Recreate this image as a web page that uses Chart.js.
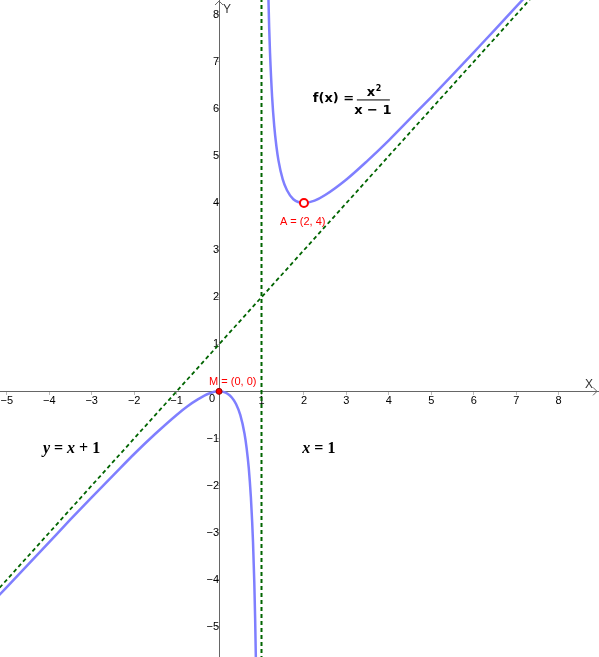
<!DOCTYPE html>
<html lang="en">
<head>
  <meta charset="UTF-8">
  <title>f(x) = x² / (x − 1)</title>
  <style>
    body { margin: 0; background: #fff; }
    .chart-container { width: 599px; height: 657px; }
  </style>
</head>
<body>
  <div class="chart-container"><canvas id="myChart"></canvas></div>

  <script src="https://cdn.jsdelivr.net/npm/chart.js"></script>
  <script>
    // curve f(x) = x^2 / (x - 1)
    const leftX = [-5.3, -4.5, -4, -3.5, -3, -2.5, -2, -1.5, -1, -0.75, -0.5, -0.25, 0, 0.1, 0.2, 0.3, 0.4, 0.5, 0.6, 0.65, 0.7, 0.75, 0.78, 0.8, 0.83, 0.85, 0.87, 0.88];
    const leftY = [-4.44, -3.68, -3.2, -2.72, -2.25, -1.79, -1.33, -0.9, -0.5, -0.32, -0.17, -0.05, 0, -0.011, -0.05, -0.129, -0.267, -0.5, -0.9, -1.21, -1.63, -2.25, -2.77, -3.2, -4.05, -4.82, -5.82, -6.45];
    const rightX = [1.12, 1.15, 1.18, 1.2, 1.25, 1.3, 1.35, 1.4, 1.5, 1.6, 1.75, 2, 2.25, 2.5, 3, 3.5, 4, 4.5, 5, 5.5, 6, 6.5, 7, 7.5];
    const rightY = [10.45, 8.82, 7.74, 7.2, 6.25, 5.63, 5.21, 4.9, 4.5, 4.27, 4.08, 4, 4.05, 4.17, 4.5, 4.9, 5.33, 5.79, 6.25, 6.72, 7.2, 7.68, 8.17, 8.65];

    // asymptotes y = x + 1 and x = 1
    const obliqueX = [-5.5, 7.5];
    const obliqueY = [-4.5, 8.5];
    const verticalX = [1, 1];
    const verticalY = [-6, 9];

    // marked points
    const pointA = [2, 4];
    const pointM = [0, 0];

    // axis ticks (0 is written once at the origin)
    const xTickValues = [-5, -4, -3, -2, -1, 1, 2, 3, 4, 5, 6, 7, 8];
    const yTickValues = [-5, -4, -3, -2, -1, 1, 2, 3, 4, 5, 6, 7, 8];

    const toPoints = (xs, ys) => xs.map((v, i) => ({ x: v, y: ys[i] }));
    const fmt = v => (v < 0 ? '\u2212' + (-v) : String(v));

    // text helper: pieces of [text, font]
    function drawPieces(ctx, pieces, x, y) {
      let cx = x;
      pieces.forEach(([t, f]) => {
        ctx.font = f;
        ctx.fillText(t, cx, y);
        cx += ctx.measureText(t).width;
      });
    }

    const overlay = {
      id: 'overlay',
      afterDraw(chart) {
        const { ctx, scales: { x, y } } = chart;
        const px = v => x.getPixelForValue(v);
        const py = v => y.getPixelForValue(v);
        const ox = px(0), oy = py(0);
        ctx.save();

        // axis arrows
        ctx.strokeStyle = '#666';
        ctx.lineWidth = 1;
        ctx.beginPath();
        ctx.moveTo(x.right - 6, oy - 4); ctx.lineTo(x.right - 2, oy); ctx.lineTo(x.right - 6, oy + 4);
        ctx.moveTo(ox - 4, y.top + 5); ctx.lineTo(ox, y.top + 1); ctx.lineTo(ox + 4, y.top + 5);
        ctx.stroke();

        // axis names and origin
        ctx.fillStyle = '#333';
        ctx.font = '12px "Liberation Sans", Arial, sans-serif';
        ctx.textBaseline = 'middle';
        ctx.textAlign = 'center';
        ctx.fillText('X', x.right - 10, oy - 7);
        ctx.fillText('Y', ox + 8, y.top + 10);
        ctx.fillStyle = '#000';
        ctx.font = '11px "Liberation Sans", Arial, sans-serif';
        ctx.fillText('0', ox - 7, oy + 8);

        // point captions
        ctx.textAlign = 'left';
        ctx.fillStyle = '#ff0000';
        ctx.fillText('M = (0, 0)', px(pointM[0]) - 10, py(pointM[1]) - 9);
        ctx.fillText('A = (2, 4)', px(pointA[0]) - 24, py(pointA[1]) + 19);

        // function caption
        ctx.fillStyle = '#000';
        const bold = 'bold 13px "DejaVu Sans", sans-serif';
        const fx = px(2.21), fy = py(6.22);
        ctx.font = bold;
        ctx.fillText('f(x) =', fx, fy);
        ctx.fillText('x', fx + 54, fy - 6);
        ctx.font = 'bold 8px "DejaVu Sans", sans-serif';
        ctx.fillText('2', fx + 63, fy - 10);
        ctx.font = bold;
        ctx.textAlign = 'center';
        ctx.fillText('x \u2212 1', fx + 60, fy + 12);
        ctx.fillRect(fx + 44, fy + 1, 33, 1);

        // asymptote captions
        ctx.textAlign = 'left';
        const it = 'bold italic 16px "Liberation Serif", serif';
        const up = 'bold 16px "Liberation Serif", serif';
        drawPieces(ctx, [['y', it], [' = ', up], ['x', it], [' + 1', up]], px(-4.15), py(-1.21));
        drawPieces(ctx, [['x', it], [' = 1', up]], px(1.96), py(-1.21));

        ctx.restore();
      }
    };

    const axisFit = scale => {
      scale.paddingLeft = 0;
      scale.paddingRight = 0;
      scale.paddingTop = 0;
      scale.paddingBottom = 0;
    };

    const ctx = document.getElementById('myChart').getContext('2d');

    new Chart(ctx, {
      type: 'scatter',
      data: {
        datasets: [
          {
            label: 'A',
            data: [{ x: pointA[0], y: pointA[1] }],
            pointRadius: 4,
            pointBorderWidth: 2,
            pointBorderColor: '#ff0000',
            pointBackgroundColor: '#ffffff',
            order: 0
          },
          {
            label: 'M',
            data: [{ x: pointM[0], y: pointM[1] }],
            pointRadius: 3,
            pointBorderWidth: 1,
            pointBorderColor: '#990000',
            pointBackgroundColor: '#ff0000',
            order: 0
          },
          {
            label: 'f left',
            data: toPoints(leftX, leftY),
            showLine: true,
            borderColor: '#7f7fff',
            borderWidth: 2.5,
            pointRadius: 0,
            cubicInterpolationMode: 'monotone',
            order: 1
          },
          {
            label: 'f right',
            data: toPoints(rightX, rightY),
            showLine: true,
            borderColor: '#7f7fff',
            borderWidth: 2.5,
            pointRadius: 0,
            cubicInterpolationMode: 'monotone',
            order: 1
          },
          {
            label: 'y = x + 1',
            data: toPoints(obliqueX, obliqueY),
            showLine: true,
            borderColor: '#006400',
            borderWidth: 1.8,
            borderDash: [4, 3],
            pointRadius: 0,
            order: 2
          },
          {
            label: 'x = 1',
            data: toPoints(verticalX, verticalY),
            showLine: true,
            borderColor: '#006400',
            borderWidth: 2,
            borderDash: [4, 3],
            pointRadius: 0,
            order: 2
          }
        ]
      },
      options: {
        responsive: true,
        maintainAspectRatio: false,
        animation: false,
        events: [],
        layout: { padding: 0, autoPadding: false },
        plugins: {
          legend: { display: false },
          tooltip: { enabled: false }
        },
        scales: {
          x: {
            type: 'linear',
            min: -5.16,
            max: 8.95,
            position: { y: 0 },
            afterBuildTicks: scale => { scale.ticks = xTickValues.map(v => ({ value: v })); },
            afterFit: axisFit,
            border: { color: '#666', width: 1 },
            grid: { drawOnChartArea: false, drawTicks: true, tickLength: 3, color: '#bbb' },
            ticks: {
              color: '#000',
              font: { size: 11, family: '"Liberation Sans", Arial, sans-serif' },
              padding: 0,
              maxRotation: 0,
              autoSkip: false,
              callback: v => fmt(v)
            }
          },
          y: {
            type: 'linear',
            min: -5.64,
            max: 8.31,
            position: { x: 0 },
            afterBuildTicks: scale => { scale.ticks = yTickValues.map(v => ({ value: v })); },
            afterFit: axisFit,
            border: { color: '#666', width: 1 },
            grid: { drawOnChartArea: false, drawTicks: true, tickLength: 3, color: '#bbb' },
            ticks: {
              color: '#000',
              font: { size: 11, family: '"Liberation Sans", Arial, sans-serif' },
              padding: 3,
              autoSkip: false,
              callback: v => fmt(v)
            }
          }
        }
      },
      plugins: [overlay]
    });
  </script>
</body>
</html>
